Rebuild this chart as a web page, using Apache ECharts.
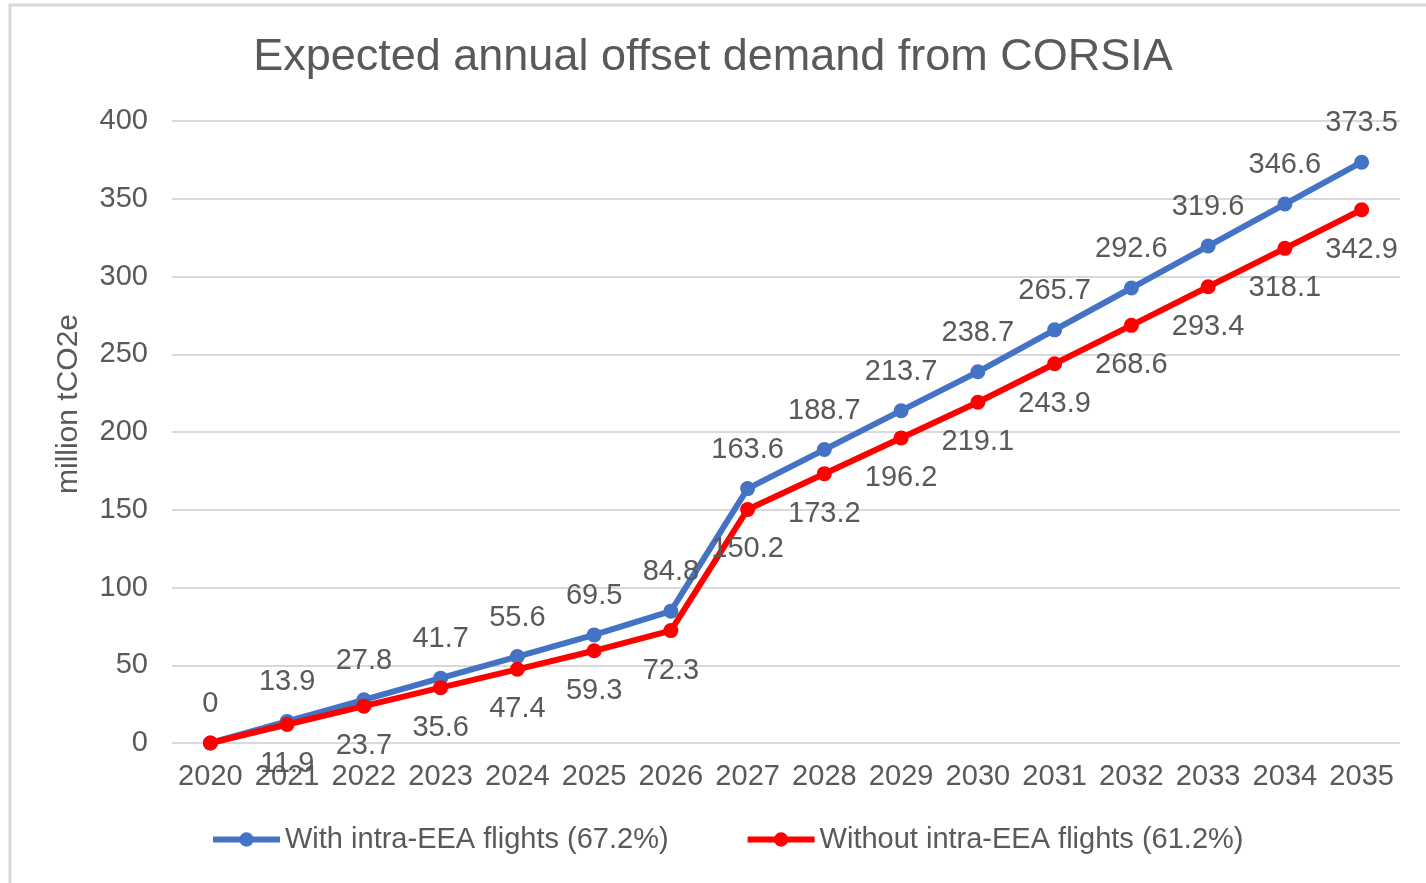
<!DOCTYPE html>
<html>
<head>
<meta charset="utf-8">
<script src="https://cdn.jsdelivr.net/npm/echarts@6/dist/echarts.min.js"></script>
<style>
html,body{margin:0;padding:0;background:#fff;}
#c{width:1426px;height:883px;}
</style>
</head>
<body>
<div id="c"></div>
<script>
const titleText = 'Expected annual offset demand from CORSIA';
const yAxisName = 'million tCO2e';
const years = ['2020','2021','2022','2023','2024','2025','2026','2027','2028','2029','2030','2031','2032','2033','2034','2035'];
const withName = 'With intra-EEA flights (67.2%)';
const withoutName = 'Without intra-EEA flights (61.2%)';
const withValues = [0, 13.9, 27.8, 41.7, 55.6, 69.5, 84.8, 163.6, 188.7, 213.7, 238.7, 265.7, 292.6, 319.6, 346.6, 373.5];
const withoutValues = [0, 11.9, 23.7, 35.6, 47.4, 59.3, 72.3, 150.2, 173.2, 196.2, 219.1, 243.9, 268.6, 293.4, 318.1, 342.9];
const yTicks = [0, 50, 100, 150, 200, 250, 300, 350, 400];

const FONT = 'Liberation Sans, Arial, sans-serif';
const GRAY = '#595959';
const FS = 29;
const chart = echarts.init(document.getElementById('c'));
chart.setOption({
  backgroundColor: '#fff',
  animation: false,
  graphic: [{
    type: 'rect', silent: true, z: -1,
    shape: {x: 10, y: 5, width: 1600, height: 1000},
    style: {fill: 'none', stroke: '#d9d9d9', lineWidth: 3}
  }],
  title: {
    text: titleText, left: 'center', top: 30,
    textStyle: {fontFamily: FONT, fontSize: 45, fontWeight: 'normal', color: GRAY}
  },
  legend: {
    bottom: 24, left: 205,
    itemWidth: 67, itemHeight: 18, itemGap: 76,
    lineStyle: {width: 6},
    textStyle: {fontFamily: FONT, fontSize: FS, color: GRAY},
    data: [withName, withoutName]
  },
  grid: {left: 172, right: 26, top: 121, bottom: 140},
  xAxis: {
    type: 'category', data: years, boundaryGap: true,
    axisLine: {show: false}, axisTick: {show: false},
    axisLabel: {fontFamily: FONT, fontSize: FS, color: GRAY, margin: 19, interval: 0}
  },
  yAxis: {
    type: 'value', min: yTicks[0], max: yTicks[yTicks.length-1], interval: 50,
    name: yAxisName, nameLocation: 'middle', nameGap: 88, nameRotate: 90,
    nameTextStyle: {fontFamily: FONT, fontSize: 30, color: GRAY, padding: [0, 0, 0, 56]},
    axisLine: {show: false}, axisTick: {show: false},
    axisLabel: {fontFamily: FONT, fontSize: FS, color: GRAY, margin: 24},
    splitLine: {lineStyle: {color: '#d9d9d9', width: 2}}
  },
  series: [
    {
      name: withName, type: 'line', data: withValues,
      color: '#4472C4',
      lineStyle: {width: 6, color: '#4472C4'},
      symbol: 'circle', symbolSize: 15, showAllSymbol: true,
      itemStyle: {color: '#4472C4'},
      label: {show: true, position: 'top', distance: 17, fontFamily: FONT, fontSize: FS, color: GRAY},
      z: 2
    },
    {
      name: withoutName, type: 'line',
      data: withoutValues.map((v, i) => i === 0 ? {value: v, label: {show: false}} : v),
      color: '#FF0000',
      lineStyle: {width: 6, color: '#FF0000'},
      symbol: 'circle', symbolSize: 15, showAllSymbol: true,
      itemStyle: {color: '#FF0000'},
      label: {show: true, position: 'bottom', distance: 18, fontFamily: FONT, fontSize: FS, color: GRAY},
      z: 3
    }
  ]
});
</script>
</body>
</html>
